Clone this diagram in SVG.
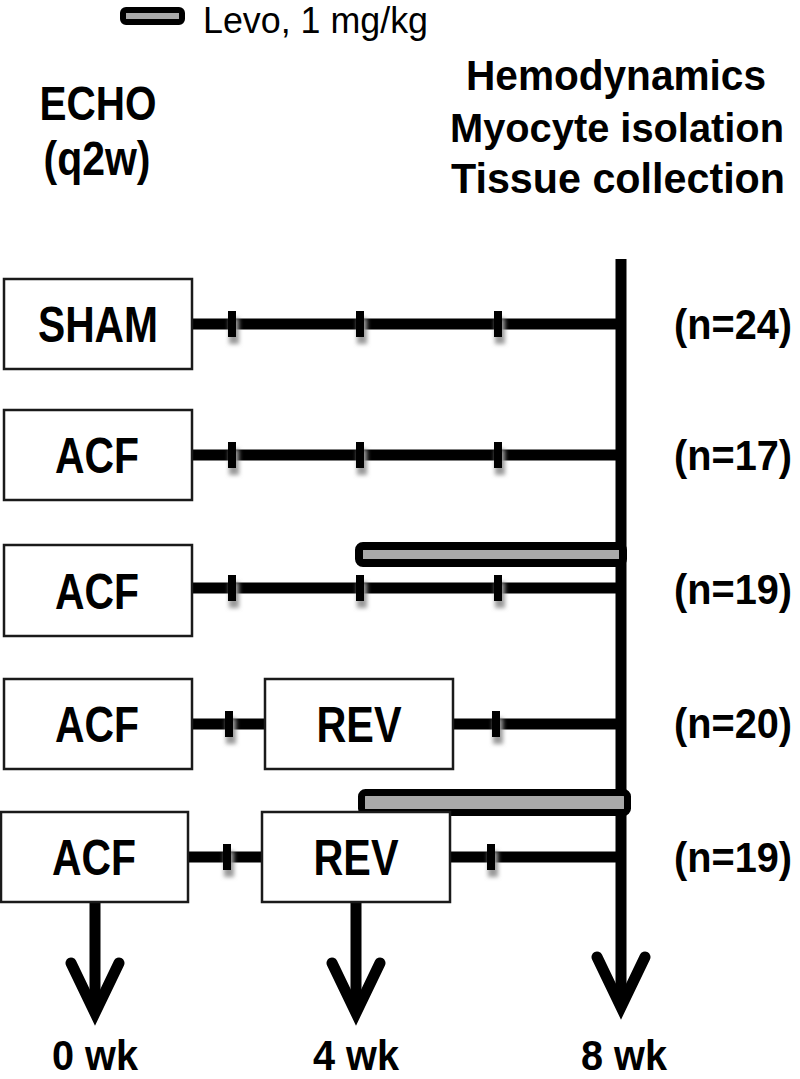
<svg xmlns="http://www.w3.org/2000/svg" width="800" height="1079" viewBox="0 0 800 1079">
<defs>
<style>
.box{fill:#fff;stroke:#1a1a1a;stroke-width:2.5}
.lbl{font-family:"Liberation Sans",Arial,sans-serif;font-weight:bold;fill:#000;text-anchor:middle}
.big{font-size:50px}
.hdr{font-size:42px}
.nl{font-size:43px}
.line{stroke:#000;stroke-width:11;fill:none}
.tick{fill:#000}
.shadow{fill:#9a9a9a;filter:url(#blur)}
.bar{fill:#a9a9a9;stroke:#000;stroke-linejoin:round}
.head{fill:none;stroke:#000;stroke-width:11;stroke-linecap:round;stroke-linejoin:miter}
</style>
<filter id="blur" x="-1" y="-1" width="3" height="3"><feGaussianBlur stdDeviation="2"/></filter>
</defs>
<rect width="800" height="1079" fill="#fff"/>

<g id="legend">
<rect class="bar" x="123" y="10" width="59" height="12" rx="3" stroke-width="6"/>
<text x="203" y="33" font-family="Liberation Sans,Arial,sans-serif" font-size="36" textLength="225" lengthAdjust="spacingAndGlyphs">Levo, 1 mg/kg</text>
</g>

<g id="echo-label">
<text class="lbl" x="98" y="120" font-size="48" textLength="117" lengthAdjust="spacingAndGlyphs">ECHO</text>
<text class="lbl" x="97" y="175" font-size="48" textLength="107" lengthAdjust="spacingAndGlyphs">(q2w)</text>
</g>

<g id="endpoint-label">
<text class="lbl hdr" x="616" y="90" textLength="300" lengthAdjust="spacingAndGlyphs">Hemodynamics</text>
<text class="lbl" x="617" y="142" font-size="41" textLength="334" lengthAdjust="spacingAndGlyphs">Myocyte isolation</text>
<text class="lbl hdr" x="618" y="193" textLength="334" lengthAdjust="spacingAndGlyphs">Tissue collection</text>
</g>

<g id="connectors">
<line class="line" x1="621" y1="259" x2="621" y2="1005"/>
<polyline class="head" points="597,957 621,1007 645,957"/>
<line class="line" x1="192" y1="324" x2="621" y2="324"/>
<line class="line" x1="192" y1="455" x2="621" y2="455"/>
<line class="line" x1="192" y1="588" x2="621" y2="588"/>
<line class="line" x1="192" y1="724" x2="265" y2="724"/>
<line class="line" x1="453" y1="724" x2="621" y2="724"/>
<line class="line" x1="188" y1="857" x2="262" y2="857"/>
<line class="line" x1="450" y1="857" x2="621" y2="857"/>
<line class="line" x1="95" y1="902" x2="95" y2="1008"/>
<polyline class="head" points="71,963 95,1013 119,963"/>
<line class="line" x1="356" y1="902" x2="356" y2="1008"/>
<polyline class="head" points="332,963 356,1013 380,963"/>
</g>

<g id="ticks">
<g class="shadow">
<rect x="229" y="318" width="10" height="26"/><rect x="357" y="318" width="10" height="26"/><rect x="495" y="318" width="10" height="26"/>
<rect x="229" y="449" width="10" height="26"/><rect x="357" y="449" width="10" height="26"/><rect x="495" y="449" width="10" height="26"/>
<rect x="229" y="582" width="10" height="26"/><rect x="357" y="582" width="10" height="26"/><rect x="495" y="582" width="10" height="26"/>
<rect x="226" y="718" width="10" height="26"/><rect x="493" y="718" width="10" height="26"/>
<rect x="224" y="851" width="10" height="26"/><rect x="488" y="851" width="10" height="26"/>
</g>
<g class="tick">
<rect x="228" y="311" width="8" height="26"/><rect x="356" y="311" width="8" height="26"/><rect x="494" y="311" width="8" height="26"/>
<rect x="228" y="442" width="8" height="26"/><rect x="356" y="442" width="8" height="26"/><rect x="494" y="442" width="8" height="26"/>
<rect x="228" y="575" width="8" height="26"/><rect x="356" y="575" width="8" height="26"/><rect x="494" y="575" width="8" height="26"/>
<rect x="225" y="711" width="8" height="26"/><rect x="492" y="711" width="8" height="26"/>
<rect x="223" y="844" width="8" height="26"/><rect x="487" y="844" width="8" height="26"/>
</g>
</g>

<g id="levo-bar-3">
<rect class="bar" x="359" y="546" width="264" height="17" rx="4" stroke-width="8"/>
</g>
<g id="levo-bar-5">
<rect class="bar" x="361.5" y="792.5" width="266" height="20" rx="4" stroke-width="7"/>
</g>

<g id="sham">
<rect class="box" x="4" y="279" width="188" height="90"/>
<text class="lbl big" x="98" y="342" textLength="120" lengthAdjust="spacingAndGlyphs">SHAM</text>
</g>
<g id="acf-2">
<rect class="box" x="4" y="410" width="188" height="90"/>
<text class="lbl big" x="97" y="473" textLength="84" lengthAdjust="spacingAndGlyphs">ACF</text>
</g>
<g id="acf-3">
<rect class="box" x="4" y="545" width="188" height="91"/>
<text class="lbl big" x="97" y="609" textLength="84" lengthAdjust="spacingAndGlyphs">ACF</text>
</g>
<g id="acf-4">
<rect class="box" x="4" y="679" width="188" height="90"/>
<text class="lbl big" x="97" y="742" textLength="84" lengthAdjust="spacingAndGlyphs">ACF</text>
</g>
<g id="rev-4">
<rect class="box" x="265" y="679" width="188" height="90"/>
<text class="lbl big" x="359" y="742" textLength="85" lengthAdjust="spacingAndGlyphs">REV</text>
</g>
<g id="acf-5">
<rect class="box" x="1" y="812" width="187" height="90"/>
<text class="lbl big" x="94" y="875" textLength="84" lengthAdjust="spacingAndGlyphs">ACF</text>
</g>
<g id="rev-5">
<rect class="box" x="262" y="812" width="188" height="90"/>
<text class="lbl big" x="356" y="875" textLength="85" lengthAdjust="spacingAndGlyphs">REV</text>
</g>

<g id="n-labels">
<text class="lbl nl" x="733" y="339" textLength="118" lengthAdjust="spacingAndGlyphs">(n=24)</text>
<text class="lbl nl" x="733" y="470" textLength="118" lengthAdjust="spacingAndGlyphs">(n=17)</text>
<text class="lbl nl" x="733" y="604" textLength="118" lengthAdjust="spacingAndGlyphs">(n=19)</text>
<text class="lbl nl" x="733" y="738" textLength="118" lengthAdjust="spacingAndGlyphs">(n=20)</text>
<text class="lbl nl" x="733" y="872" textLength="118" lengthAdjust="spacingAndGlyphs">(n=19)</text>
</g>

<g id="week-labels">
<text class="lbl" x="95" y="1070" font-size="42" textLength="86" lengthAdjust="spacingAndGlyphs">0 wk</text>
<text class="lbl" x="356" y="1070" font-size="42" textLength="86" lengthAdjust="spacingAndGlyphs">4 wk</text>
<text class="lbl" x="624" y="1070" font-size="42" textLength="86" lengthAdjust="spacingAndGlyphs">8 wk</text>
</g>
</svg>
